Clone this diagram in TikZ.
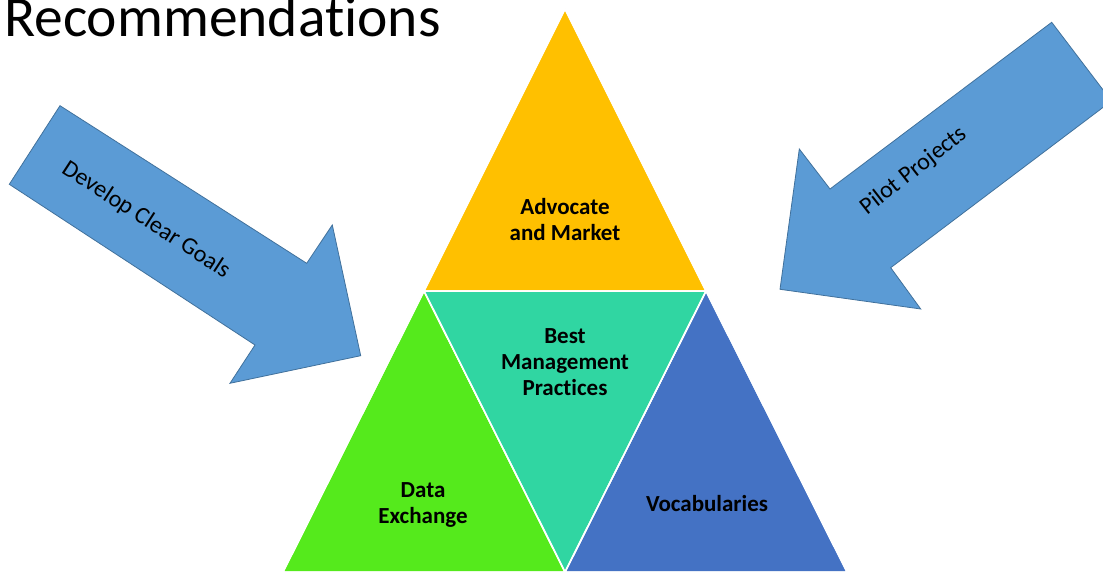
\documentclass[tikz,border=0pt]{standalone}
\usepackage{fontspec}
\setmainfont{Carlito}[Ligatures={NoCommon}]
\definecolor{cOrange}{HTML}{FFC000}
\definecolor{cGreen}{HTML}{55EA1C}
\definecolor{cTeal}{HTML}{30D6A2}
\definecolor{cBlue}{HTML}{4472C4}
\definecolor{cArrow}{HTML}{5B9BD5}
\definecolor{cArrowEdge}{HTML}{41719C}
\tikzset{
  tri/.style={draw=white, line width=1.5pt, line join=round},
  bigarrow/.style={fill=cArrow, draw=cArrowEdge, line width=0.8pt, line join=miter},
  trilabel/.style={font=\fontsize{23}{26}\selectfont\bfseries, align=center, text=black, inner sep=0pt},
  arrowlabel/.style={font=\fontsize{24}{28}\selectfont, text=black, inner sep=0pt},
}
\begin{document}
\begin{tikzpicture}[x=1pt,y=-1pt]
\useasboundingbox (0,0) rectangle (1103,572);
\clip (0,0) rectangle (1103,572);
% triangle corners
\coordinate (top) at (565,9);
\coordinate (ml) at (424,291);
\coordinate (mr) at (706,291);
\coordinate (bm) at (565,572);
\coordinate (bl) at (283,572);
\coordinate (br) at (847,572);
% triangles
\fill[cOrange, tri] (top) -- (mr) -- (ml) -- cycle;
\fill[cGreen, tri] (ml) -- (bm) -- (bl) -- cycle;
\fill[cBlue, tri] (mr) -- (br) -- (bm) -- cycle;
\fill[cTeal, tri] (ml) -- (mr) -- (bm) -- cycle;
\draw[tri] (top) -- (mr) -- (ml) -- cycle;
\draw[tri] (ml) -- (bm) -- (bl) -- cycle;
\draw[tri] (mr) -- (br) -- (bm) -- cycle;
% labels
\node[trilabel] (adv) at (565,220) {Advocate\\and Market};
\node[trilabel] (bmp) at (565,362) {Best\\Management\\Practices};
\node[trilabel] (dx) at (423,505) {Data\\Exchange};
\node[trilabel] (voc) at (707,504) {Vocabularies};
% left arrow
\coordinate (la1) at (60,105.7);
\coordinate (la2) at (306.7,263.3);
\coordinate (la3) at (332.3,225);
\coordinate (la4) at (360.7,355.7);
\coordinate (la5) at (230,383.3);
\coordinate (la6) at (255,345);
\coordinate (la7) at (9.3,184.3);
\draw[bigarrow] (la1) -- (la2) -- (la3) -- (la4) -- (la5) -- (la6) -- (la7) -- cycle;
\node[arrowlabel, rotate=-33] (goals) at (146,220) {Develop Clear Goals};
% right arrow
\coordinate (ra1) at (1051.7,22.3);
\coordinate (ra2) at (830,189);
\coordinate (ra3) at (799.3,149);
\coordinate (ra4) at (780,289.3);
\coordinate (ra5) at (920.7,309);
\coordinate (ra6) at (890.7,267.7);
\coordinate (ra7) at (1111.5,101);
\draw[bigarrow] (ra1) -- (ra2) -- (ra3) -- (ra4) -- (ra5) -- (ra6) -- (ra7) -- cycle;
\node[arrowlabel, rotate=38] (pilot) at (914,171) {Pilot Projects};
% title
\node[anchor=base west, inner sep=0pt, font=\fontsize{57.5}{62}\selectfont] (title) at (4,37) {Recommendations};
\end{tikzpicture}
\end{document}
